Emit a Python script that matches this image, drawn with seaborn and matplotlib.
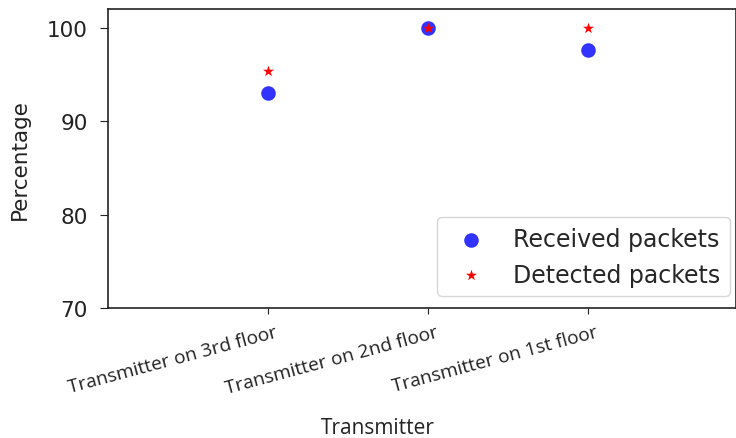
import numpy as np
import pandas as pd
import matplotlib
matplotlib.use("Agg")
import matplotlib.pyplot as plt
import matplotlib.transforms as mtransforms
import seaborn as sns

# values
transmitters = ["Transmitter on 3rd floor", "Transmitter on 2nd floor", "Transmitter on 1st floor"]
received = [93.0, 100.0, 97.6]
detected = [95.4, 100.0, 100.0]

sns.set_style("ticks")
plt.rcParams['font.family'] = ['DejaVu Sans']

fig = plt.figure(figsize=(7.36, 4.39), dpi=100)
ax = fig.add_axes([0.1467, 0.296, 0.8533, 0.681])

df_rec = pd.DataFrame({"Transmitter": transmitters, "Percentage": received})
df_det = pd.DataFrame({"Transmitter": transmitters, "Percentage": detected})

sns.scatterplot(data=df_rec, x="Transmitter", y="Percentage", ax=ax,
                color="blue", alpha=0.8, s=110, marker="o", linewidth=0,
                label="Received packets")
sns.scatterplot(data=df_det, x="Transmitter", y="Percentage", ax=ax,
                color="red", s=70, marker="*", linewidth=0,
                label="Detected packets")

ax.set_xlim(-1, 2.925)
ax.set_ylim(70, 102)
ax.set_yticks([70, 80, 90, 100])
ax.tick_params(axis="y", labelsize=15.5, length=6, pad=8.5, colors="#222222", labelcolor="#222222")
ax.tick_params(axis="x", length=4.5, pad=6, colors="#222222")

# shift rotated tick labels a bit right, like the original
offset = mtransforms.ScaledTranslation(0.07, 0, fig.dpi_scale_trans)
for lab in ax.get_xticklabels():
    lab.set_rotation(15)
    lab.set_ha("right")
    lab.set_va("top")
    lab.set_rotation_mode("anchor")
    lab.set_fontfamily("Open Sans")
    lab.set_fontsize(13.8)
    lab.set_color("#222222")
    lab.set_transform(lab.get_transform() + offset)

ax.set_ylabel("Percentage", fontsize=15.5, color="#222222")
ax.yaxis.set_label_coords(-0.125, 0.5)
ax.set_xlabel("Transmitter", fontsize=15, fontfamily="Open Sans", color="#222222")
ax.xaxis.set_label_coords(0.43, -0.365)

for sp in ax.spines.values():
    sp.set_color("#222222")
    sp.set_linewidth(1.2)

ax.legend(loc="lower right", fontsize=17, frameon=True,
          bbox_to_anchor=(0.99, 0.04), borderaxespad=0)

fig.savefig("out.png", dpi=100)
